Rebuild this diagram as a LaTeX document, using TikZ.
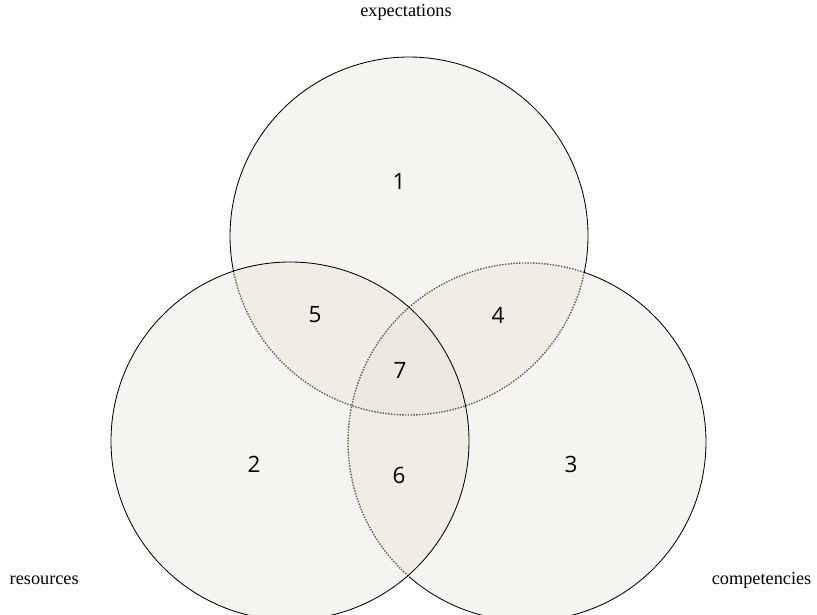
\documentclass[tikz,border=0pt]{standalone}
\usepackage{fontspec}
\setmainfont{Liberation Serif}
\newfontfamily\numfont{Open Sans}
\definecolor{setfill}{RGB}{225,220,205}

\tikzset{
  setarea/.style={fill=setfill, fill opacity=0.3},
  rim/.style={draw=black, line width=0.6pt},
  hidden/.style={draw=black!65, densely dotted, line width=1pt},
  region/.style={font=\numfont\fontsize{16}{19}\selectfont},
  setname/.style={font=\fontsize{13}{16}\selectfont, inner sep=1pt}
}

\begin{document}
\begin{tikzpicture}[x=0.025cm,y=0.025cm]
\useasboundingbox (0,0) rectangle (817,614);
\clip (0,0) rectangle (817,614);

\coordinate (top) at (409,378);
\coordinate (left) at (290,173);
\coordinate (right) at (527,172);

% the three sets
\fill[setarea] (top) circle (179);
\fill[setarea] (right) circle (179);
\fill[setarea] (left) circle (179);

% outlines, hidden parts dotted
\draw[rim] (top) ++(-11.7:179) arc (-11.7:191.3:179);
\draw[hidden] (top) ++(191.3:179) arc (191.3:348.3:179);
\draw[rim] (right) ++(228.8:179) arc (228.8:431.4:179);
\draw[hidden] (right) ++(71.4:179) arc (71.4:228.8:179);
\draw[rim] (left) circle (179);

% regions
\node[region] (r1) at (399,433) {1};
\node[region] (r2) at (254,150) {2};
\node[region] (r3) at (571,150) {3};
\node[region] (r4) at (498,299) {4};
\node[region] (r5) at (315,299) {5};
\node[region] (r6) at (399,139) {6};
\node[region] (r7) at (400,244) {7};

% names
\node[setname] (expect) at (406,602) {expectations};
\node[setname, anchor=west] (resour) at (8,34) {resources};
\node[setname, anchor=east] (compet) at (813,34) {competencies};

\end{tikzpicture}
\end{document}
